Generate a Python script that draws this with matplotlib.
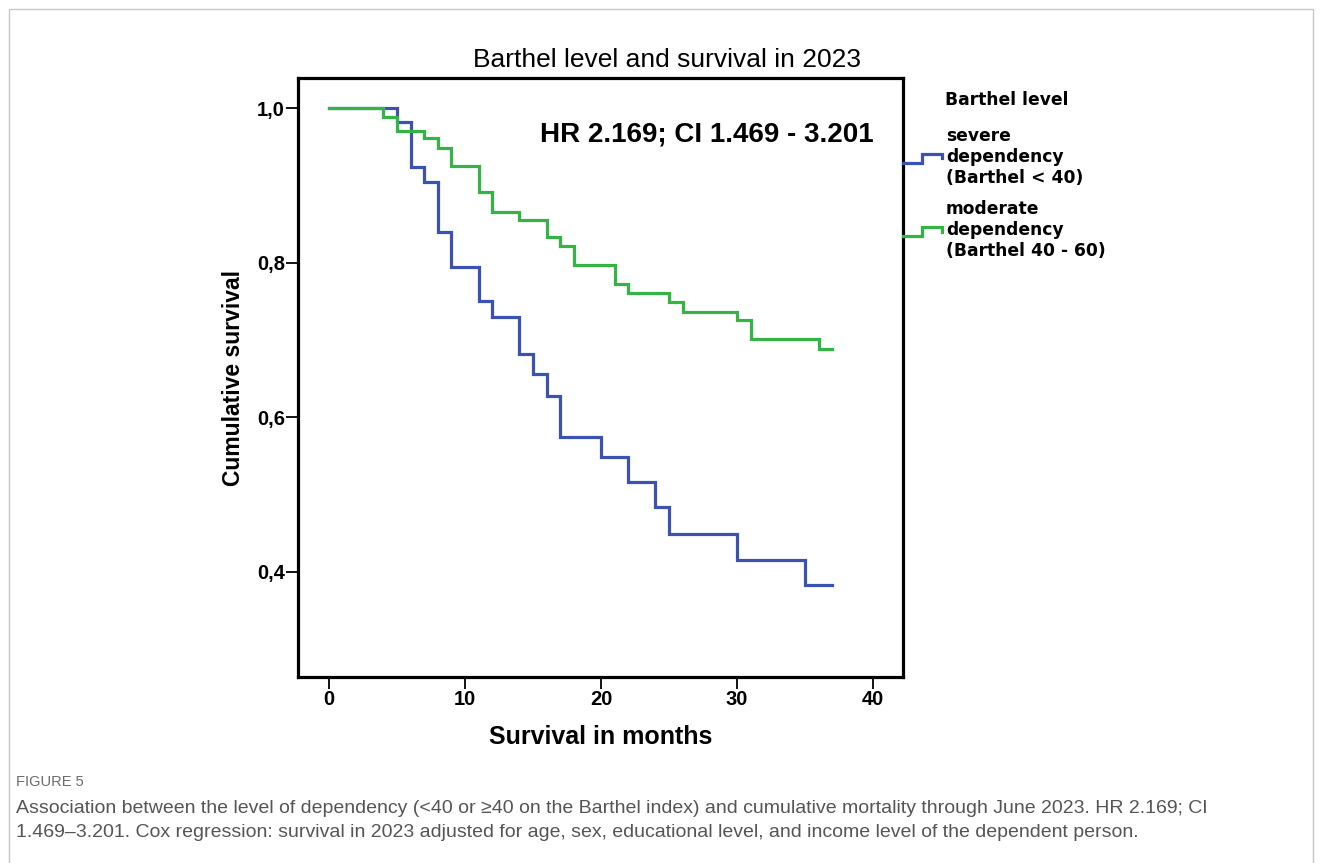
import matplotlib
matplotlib.use('Agg')
import matplotlib.pyplot as plt
from matplotlib.lines import Line2D
from matplotlib.legend_handler import HandlerBase
from matplotlib.patches import Rectangle
from matplotlib.ticker import FuncFormatter

plt.rcParams['font.family'] = ['Liberation Sans', 'DejaVu Sans']

# Kaplan-Meier steps (months, cumulative survival)
severe_months = [0, 5, 6, 7, 8, 9, 11, 12, 14, 15, 16, 17, 20, 22, 24, 25, 30, 35, 37]
severe_surv = [1.0, 0.982, 0.924, 0.904, 0.84, 0.795, 0.75, 0.73, 0.682, 0.656,
               0.628, 0.575, 0.548, 0.516, 0.484, 0.449, 0.416, 0.383, 0.383]

moderate_months = [0, 4, 5, 7, 8, 9, 11, 12, 14, 16, 17, 18, 21, 22, 25, 26, 30, 31, 36, 37]
moderate_surv = [1.0, 0.989, 0.97, 0.961, 0.949, 0.925, 0.891, 0.866, 0.855, 0.833,
                 0.821, 0.797, 0.772, 0.761, 0.749, 0.736, 0.726, 0.701, 0.689, 0.689]

group_labels = ['severe\ndependency\n(Barthel < 40)',
                'moderate\ndependency\n(Barthel 40 - 60)']
group_colors = ['#3b52b0', '#35b446']

x_ticks = [0, 10, 20, 30, 40]
y_ticks = [0.4, 0.6, 0.8, 1.0]

caption_1 = ('Association between the level of dependency (<40 or \u226540 on the Barthel index) '
             'and cumulative mortality through June 2023. HR 2.169; CI')
caption_2 = ('1.469\u20133.201. Cox regression: survival in 2023 adjusted for age, sex, '
             'educational level, and income level of the dependent person.')


class StepHandler(HandlerBase):
    # little step glyph like the SPSS legend
    def create_artists(self, legend, orig_handle, xdescent, ydescent,
                       width, height, fontsize, trans):
        x0, y0 = -xdescent, -ydescent
        xs = [x0, x0 + 0.48 * width, x0 + 0.48 * width, x0 + width, x0 + width]
        ys = [y0 + 0.1 * height, y0 + 0.1 * height, y0 + 0.85 * height,
              y0 + 0.85 * height, y0 + 0.45 * height]
        ln = Line2D(xs, ys, color=orig_handle.get_color(),
                    lw=orig_handle.get_linewidth(), solid_joinstyle='miter')
        ln.set_transform(trans)
        return [ln]


W, H = 1322, 863
fig = plt.figure(figsize=(W / 100, H / 100), dpi=100)

# page frame
fig.patches.append(Rectangle((9 / W, -0.05), 1304 / W, 1.05 - 9 / H,
                             transform=fig.transFigure, fill=False,
                             edgecolor='#c9c9c9', lw=1))

ax = fig.add_axes([298 / W, 1 - 677 / H, 605 / W, 599 / H])

lines = []
for xs, ys, c in zip([severe_months, moderate_months], [severe_surv, moderate_surv], group_colors):
    ln, = ax.plot(xs, ys, drawstyle='steps-post', color=c, lw=2.3,
                  solid_joinstyle='miter')
    lines.append(ln)

ax.set_xlim(-2.28, 42.2)
ax.set_ylim(0.264, 1.039)
ax.set_xticks(x_ticks)
ax.set_yticks(y_ticks)
ax.yaxis.set_major_formatter(FuncFormatter(lambda v, p: f'{v:.1f}'.replace('.', ',')))
for s in ax.spines.values():
    s.set_linewidth(2.3)
ax.tick_params(direction='out', length=8.5, width=1.3, pad=0.8, labelsize=14.5)
for t in ax.get_xticklabels() + ax.get_yticklabels():
    t.set_fontweight('bold')

ax.set_xlabel('Survival in months', fontsize=18, fontweight='bold', labelpad=11.5)
ax.set_ylabel('Cumulative survival', fontsize=16.5, fontweight='bold', labelpad=8.5)

fig.text(540 / W, 1 - 135 / H, 'HR 2.169; CI 1.469 - 3.201',
         fontsize=20, fontweight='bold', va='center', ha='left')

fig.text(667 / W, 1 - 60 / H, 'Barthel level and survival in 2023',
         fontsize=19, ha='center', va='center')

# legend
fig.text(945 / W, 1 - 100 / H, 'Barthel level', fontsize=12.3,
         family='DejaVu Sans', fontweight='bold', ha='left', va='center')
leg = fig.legend(lines, group_labels, loc='upper left',
                 bbox_to_anchor=(903 / W, 1 - 127 / H),
                 handler_map={Line2D: StepHandler()},
                 frameon=False, borderpad=0, borderaxespad=0,
                 handlelength=2.28, handleheight=0.7, handletextpad=0.23,
                 labelspacing=0.8,
                 prop={'family': 'DejaVu Sans', 'size': 12.3, 'weight': 'bold'})

# caption
fig.text(16 / W, 1 - 782 / H, 'FIGURE 5', fontsize=10.5, color='#6b6b6b',
         ha='left', va='center')
fig.text(16 / W, 1 - 808 / H, caption_1, fontsize=14, color='#555555',
         ha='left', va='center')
fig.text(16 / W, 1 - 832 / H, caption_2, fontsize=14, color='#555555',
         ha='left', va='center')

fig.savefig('out.png', dpi=100)
